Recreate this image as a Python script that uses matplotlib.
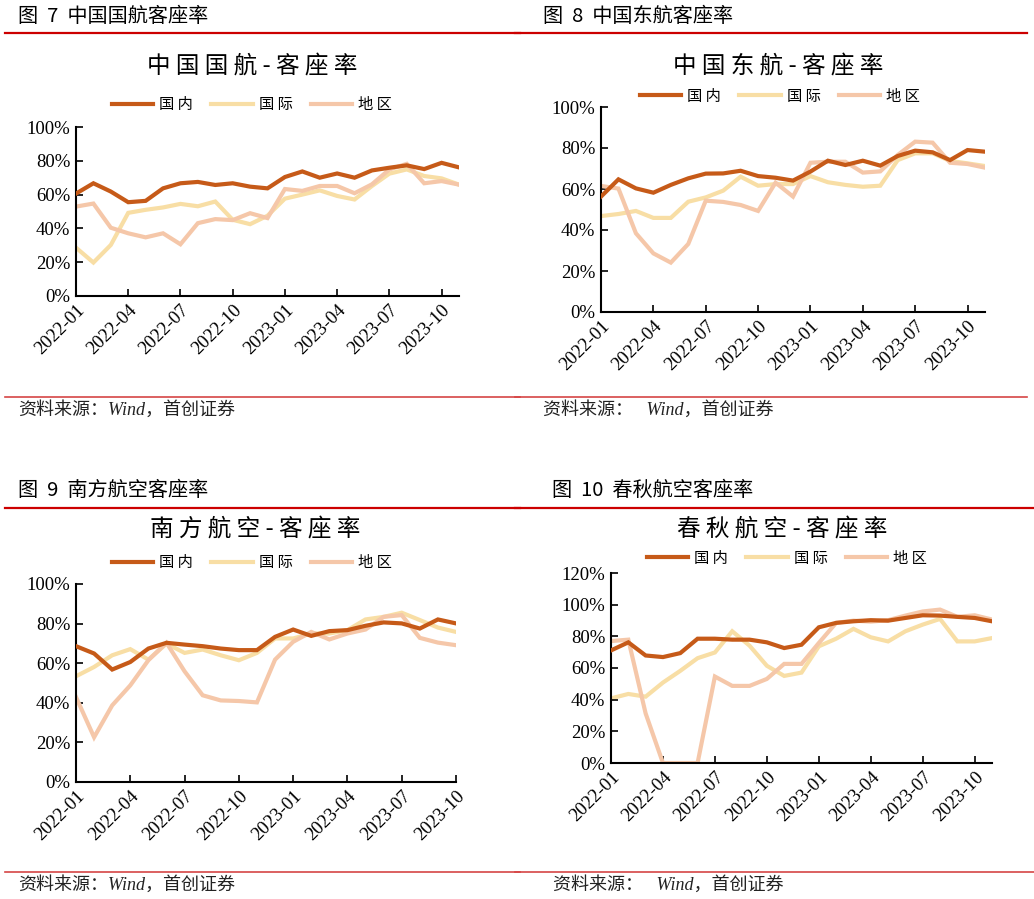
import matplotlib
matplotlib.use("Agg")
import matplotlib.pyplot as plt
from matplotlib.lines import Line2D

plt.rcParams['font.family'] = ['Noto Sans CJK SC', 'DejaVu Sans']

# month index 0 = 2022-01
tick_pos = [0, 3, 6, 9, 12, 15, 18, 21]
tick_lab = ['2022-01', '2022-04', '2022-07', '2022-10',
            '2023-01', '2023-04', '2023-07', '2023-10']
names = ['国内', '国际', '地区']
colors = ['#C65A18', '#F8DEA5', '#F5C7A9']

# 中国国航 (2022-01 .. 2023-11)
ca_dom = [60.6, 66.7, 61.8, 55.5, 56.3, 63.7, 66.7, 67.5, 65.7, 66.7, 64.7, 63.7,
          70.4, 73.7, 70.0, 72.5, 70.0, 74.3, 75.9, 77.3, 75.1, 78.8, 76.1]
ca_int = [28.6, 19.8, 30.2, 49.2, 51.0, 52.4, 54.5, 53.1, 55.9, 45.1, 42.5, 47.5,
          57.6, 60.0, 62.5, 59.2, 57.1, 65.1, 72.4, 74.9, 71.0, 69.6, 65.9]
ca_reg = [52.9, 54.7, 40.4, 37.1, 34.7, 37.1, 30.6, 43.1, 45.5, 44.9, 49.0, 46.1,
          63.3, 62.2, 65.1, 65.1, 60.8, 66.1, 74.9, 78.2, 66.7, 68.0, 65.9]

# 中国东航 (2022-01 .. 2023-11)
mu_dom = [56.3, 64.7, 60.3, 58.2, 62.0, 65.2, 67.5, 67.6, 68.9, 66.3, 65.5, 64.1,
          68.5, 73.8, 71.7, 73.8, 71.4, 76.1, 78.7, 77.9, 74.1, 79.0, 78.2]
mu_int = [46.8, 47.8, 49.3, 45.9, 45.9, 53.8, 55.9, 59.2, 66.0, 61.6, 62.4, 62.4,
          66.3, 63.3, 62.0, 61.1, 61.6, 74.1, 77.4, 77.4, 73.7, 72.5, 71.2]
mu_reg = [61.5, 60.2, 38.4, 28.6, 24.1, 33.2, 54.3, 53.7, 52.2, 49.3, 63.1, 56.3,
          72.8, 73.3, 73.3, 68.0, 68.6, 76.6, 83.1, 82.6, 72.8, 72.2, 70.4]

# 南方航空 (2022-01 .. 2023-10)
cz_dom = [68.6, 64.9, 56.8, 60.6, 67.4, 70.3, 69.4, 68.6, 67.4, 66.6, 66.6,
          73.3, 77.0, 73.8, 76.2, 76.7, 78.9, 80.6, 80.1, 77.5, 82.1, 80.1]
cz_int = [53.4, 58.1, 64.0, 67.1, 61.8, 69.9, 65.2, 66.9, 64.0, 61.5, 65.2,
          72.5, 72.5, 75.0, 75.0, 76.7, 82.1, 83.4, 85.5, 81.8, 78.0, 75.8]
cz_reg = [42.9, 22.6, 38.7, 48.8, 61.5, 70.3, 55.9, 43.8, 41.2, 40.9, 40.2,
          61.8, 70.8, 75.8, 72.0, 75.0, 77.0, 83.4, 84.3, 72.8, 70.4, 69.1]

# 春秋航空 (2022-01 .. 2023-11)
cq_dom = [71.1, 76.2, 67.9, 66.9, 69.4, 78.5, 78.5, 77.9, 77.9, 76.2, 72.6, 74.7,
          85.7, 88.5, 89.5, 90.2, 89.9, 91.6, 93.3, 93.1, 92.3, 91.6, 89.5]
cq_int = [40.8, 43.6, 41.9, 50.8, 58.2, 66.2, 69.8, 83.2, 74.1, 61.4, 55.0, 57.1,
          73.7, 78.5, 84.7, 79.4, 76.8, 83.2, 87.4, 91.0, 76.8, 76.8, 78.9]
cq_reg = [77.0, 77.9, 31.3, 0.0, 0.0, 0.0, 54.6, 48.7, 48.7, 53.1, 62.6, 62.6,
          75.8, 88.5, 89.9, 89.3, 90.2, 93.1, 95.7, 96.9, 92.3, 93.3, 90.6]

W, H = 1034, 899
fig = plt.figure(figsize=(W / 100, H / 100), dpi=100)


def fx(x):
    return x / W


def fy(y):
    return 1 - y / H


def hline(x0, x1, y, color, lw):
    fig.add_artist(Line2D([fx(x0), fx(x1)], [fy(y), fy(y)], color=color, lw=lw,
                          transform=fig.transFigure))


panels = [
    dict(head='图  7  中国国航客座率', hx=18, hy=17, line_x=(5, 520), top=33, bot=397,
         src='资料来源：Wind，首创证券', sx=18, sy=410,
         title='中 国 国 航 - 客 座 率', tx=252, ty=67, lx=252, ly=105,
         box=(76, 459, 127, 296), ymax=100, data=[ca_dom, ca_int, ca_reg]),
    dict(head='图  8  中国东航客座率', hx=543, hy=17, line_x=(515, 1027), top=33, bot=397,
         src='资料来源：   Wind，首创证券', sx=543, sy=410,
         title='中 国 东 航 - 客 座 率', tx=778, ty=67, lx=780, ly=96,
         box=(601, 985, 107, 312), ymax=100, data=[mu_dom, mu_int, mu_reg]),
    dict(head='图  9  南方航空客座率', hx=18, hy=490, line_x=(5, 520), top=508, bot=872,
         src='资料来源：Wind，首创证券', sx=18, sy=885,
         title='南 方 航 空 - 客 座 率', tx=255, ty=530, lx=252, ly=563,
         box=(76, 456, 584, 782), ymax=100, data=[cz_dom, cz_int, cz_reg]),
    dict(head='图  10  春秋航空客座率', hx=552, hy=490, line_x=(515, 1034), top=508, bot=872,
         src='资料来源：   Wind，首创证券', sx=553, sy=885,
         title='春 秋 航 空 - 客 座 率', tx=782, ty=530, lx=787, ly=558,
         box=(611, 992, 573, 763), ymax=120, data=[cq_dom, cq_int, cq_reg]),
]

for p in panels:
    fig.text(fx(p['hx']), fy(p['hy']), p['head'], fontsize=14.5,
             ha='left', va='center')
    hline(p['line_x'][0], p['line_x'][1], p['top'], '#CC0000', 1.6)
    hline(p['line_x'][0], p['line_x'][1], p['bot'], '#D64545', 1.2)
    fig.text(fx(p['sx']), fy(p['sy']), p['src'], fontsize=13, style='italic',
             family=['Liberation Serif', 'Noto Sans CJK SC'],
             ha='left', va='center', color='#222222')
    fig.text(fx(p['tx']), fy(p['ty']), p['title'], fontsize=17,
             ha='center', va='center')

    l, r, t, b = p['box']
    ax = fig.add_axes([fx(l), fy(b), (r - l) / W, (b - t) / H])
    handles = []
    for vals, name, c in zip(p['data'], names, colors):
        h, = ax.plot(range(len(vals)), vals, color=c, lw=3.0, label=name,
                     solid_joinstyle='miter')
        handles.append(h)
    ax.set_xlim(0, len(p['data'][0]) - 1)
    ax.set_ylim(0, p['ymax'])
    ax.set_yticks(range(0, p['ymax'] + 1, 20))
    ax.set_yticklabels(['%d%%' % v for v in range(0, p['ymax'] + 1, 20)],
                       family='Liberation Serif', fontsize=13.5)
    ax.set_xticks(tick_pos)
    ax.set_xticklabels(tick_lab, rotation=45, ha='right', rotation_mode='anchor',
                       family='Liberation Serif', fontsize=13.5)
    ax.tick_params(direction='in', length=5, width=1.2, colors='black', pad=4)
    for s in ['top', 'right']:
        ax.spines[s].set_visible(False)
    for s in ['left', 'bottom']:
        ax.spines[s].set_linewidth(1.5)
    # domestic line drawn on top
    for h, z in zip(handles, [3, 1, 2]):
        h.set_zorder(z)
    fig.legend(handles, [' '.join(n) for n in names], loc='center',
               bbox_to_anchor=(fx(p['lx']), fy(p['ly'])), ncol=3, frameon=False,
               fontsize=11, handlelength=2.7, handletextpad=0.4, columnspacing=1.2)

fig.savefig('out.png', dpi=100)
